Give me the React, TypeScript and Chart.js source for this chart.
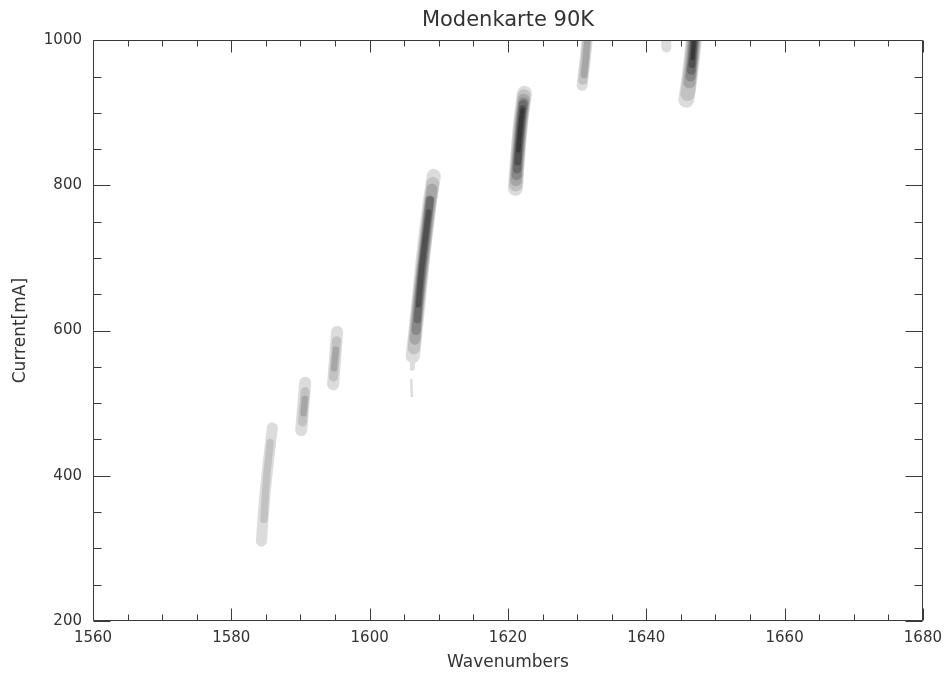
import React, { useEffect, useRef } from "react";
import { Chart, registerables } from "chart.js";

Chart.register(...registerables);

type Pt = [number, number]; // [wavenumber, current mA]
type Level = { z: number; w: number; pts: Pt[] }; // z = contour level, w = width in wavenumbers

const chartTitle = "Modenkarte 90K";
const xTitle = "Wavenumbers";
const yTitle = "Current[mA]";
const xRange: [number, number] = [1560, 1680];
const yRange: [number, number] = [200, 1000];
const xTickValues = [1560, 1580, 1600, 1620, 1640, 1660, 1680];
const yTickValues = [200, 400, 600, 800, 1000];
const xMinorStep = 5;
const yMinorStep = 50;

// contour ridges of each laser mode, one entry per contour level
const mode1585: Level[] = [
  { z: 1, w: 1.6, pts: [[1584.35, 310], [1584.92, 380], [1585.93, 466]] },
  { z: 2, w: 1.05, pts: [[1584.72, 340], [1585.07, 394], [1585.64, 446]] },
];
const mode1590: Level[] = [
  { z: 1, w: 1.75, pts: [[1590.11, 463], [1590.68, 528]] },
  { z: 2, w: 1.3, pts: [[1590.28, 474], [1590.68, 516]] },
  { z: 3, w: 0.9, pts: [[1590.44, 486], [1590.63, 506]] },
];
const mode1595: Level[] = [
  { z: 1, w: 1.75, pts: [[1594.72, 526], [1595.29, 598]] },
  { z: 2, w: 1.3, pts: [[1594.76, 536], [1595.24, 586]] },
  { z: 3, w: 0.9, pts: [[1594.84, 548], [1595.12, 574]] },
];
const mode1606: Level[] = [
  { z: 1, w: 0.36, pts: [[1606.03, 532], [1606.1, 510]] },
];
const mode1608: Level[] = [
  { z: 1, w: 0.72, pts: [[1606.17, 548], [1606.38, 580]] },
  { z: 1, w: 2.05, pts: [[1606.24, 565], [1606.96, 628], [1607.68, 697], [1608.55, 766], [1609.27, 813]] },
  { z: 2, w: 1.8, pts: [[1606.4, 576], [1607.04, 638], [1607.8, 702], [1608.6, 766], [1609.15, 803]] },
  { z: 3, w: 1.55, pts: [[1606.55, 588], [1607.18, 650], [1607.92, 712], [1608.65, 770], [1609.02, 795]] },
  { z: 4, w: 1.3, pts: [[1606.72, 600], [1607.35, 665], [1608.15, 732], [1608.7, 780]] },
  { z: 5, w: 1.05, pts: [[1606.9, 615], [1607.5, 680], [1608.5, 760], [1608.75, 780]] },
  { z: 6, w: 0.75, pts: [[1607.05, 635], [1607.54, 686], [1608.55, 764]] },
];
const mode1622: Level[] = [
  { z: 1, w: 2.16, pts: [[1621.08, 796], [1621.37, 835], [1621.8, 883], [1622.38, 927]] },
  { z: 2, w: 1.95, pts: [[1621.12, 801], [1621.4, 836], [1621.82, 883], [1622.34, 923]] },
  { z: 3, w: 1.7, pts: [[1621.18, 807], [1621.45, 840], [1621.88, 886], [1622.28, 918]] },
  { z: 4, w: 1.45, pts: [[1621.24, 814], [1621.5, 846], [1621.92, 890], [1622.25, 914]] },
  { z: 5, w: 1.2, pts: [[1621.32, 822], [1621.58, 855], [1622.0, 898], [1622.2, 912]] },
  { z: 6, w: 0.95, pts: [[1621.4, 832], [1621.68, 865], [1622.12, 906]] },
  { z: 7, w: 0.6, pts: [[1621.5, 848], [1621.8, 880], [1622.1, 904]] },
];
const mode1631: Level[] = [
  { z: 1, w: 1.6, pts: [[1631.59, 1014], [1631.16, 973], [1630.73, 938]] },
  { z: 2, w: 1.3, pts: [[1631.55, 1014], [1631.16, 973], [1630.83, 945]] },
  { z: 3, w: 0.95, pts: [[1631.48, 1000], [1631.16, 965], [1631.0, 952]] },
];
const mode1643: Level[] = [
  { z: 1, w: 1.44, pts: [[1642.83, 1014], [1642.9, 990]] },
];
const mode1647: Level[] = [
  { z: 1, w: 2.3, pts: [[1647.01, 1014], [1646.57, 973], [1646.0, 931], [1645.78, 918]] },
  { z: 2, w: 2.05, pts: [[1647.01, 1014], [1646.57, 973], [1646.1, 934], [1645.95, 926]] },
  { z: 3, w: 1.75, pts: [[1647.01, 1014], [1646.62, 973], [1646.25, 942]] },
  { z: 4, w: 1.45, pts: [[1647.01, 1014], [1646.68, 977], [1646.38, 950]] },
  { z: 5, w: 1.2, pts: [[1647.01, 1014], [1646.75, 983], [1646.5, 958]] },
  { z: 6, w: 0.9, pts: [[1647.01, 1014], [1646.79, 986], [1646.6, 966]] },
  { z: 7, w: 0.55, pts: [[1647.01, 1014], [1646.82, 990], [1646.7, 975]] },
];

const modes: Level[][] = [
  mode1585, mode1590, mode1595, mode1606, mode1608, mode1622, mode1631, mode1643, mode1647,
];

const grayLevels = ["#dcdcdc", "#c2c2c2", "#a6a6a6", "#888888", "#6b6b6b", "#505050", "#383838"];

const FONT = "'DejaVu Sans', 'Liberation Sans', sans-serif";
const TEXT = "#333333";

function widthPx(chart: any, w: number): number {
  const s = chart?.scales?.x;
  if (!s || !s.width) return 1;
  return Math.abs(s.getPixelForValue(xRange[0] + w) - s.getPixelForValue(xRange[0]));
}

const framePlugin = {
  id: "idlFrame",
  afterDraw(chart: any) {
    const { ctx, chartArea: a, scales } = chart;
    const xs = scales.x;
    const ys = scales.y;
    const L = Math.round(a.left) + 0.5;
    const R = Math.round(a.right) - 0.5;
    const T = Math.round(a.top) + 0.5;
    const B = Math.round(a.bottom) - 0.5;
    ctx.save();
    ctx.strokeStyle = "#3a3a3a";
    ctx.lineWidth = 1;
    ctx.beginPath();
    ctx.rect(L, T, R - L, B - T);
    for (let v = xRange[0]; v <= xRange[1] + 1e-9; v += xMinorStep) {
      const len = xTickValues.includes(v) ? 12 : 6;
      const p = Math.round(xs.getPixelForValue(v)) + 0.5;
      ctx.moveTo(p, B);
      ctx.lineTo(p, B - len);
      ctx.moveTo(p, T);
      ctx.lineTo(p, T + len);
    }
    for (let v = yRange[0]; v <= yRange[1] + 1e-9; v += yMinorStep) {
      const len = yTickValues.includes(v) ? 17 : 8;
      const p = Math.round(ys.getPixelForValue(v)) + 0.5;
      ctx.moveTo(L, p);
      ctx.lineTo(L + len, p);
      ctx.moveTo(R, p);
      ctx.lineTo(R - len, p);
    }
    ctx.stroke();
    ctx.restore();
  },
};

export default function App() {
  const ref = useRef<HTMLCanvasElement | null>(null);

  useEffect(() => {
    if (!ref.current) return;
    const datasets: any[] = [];
    modes.forEach((mode) => {
      mode.forEach((lvl) => {
        const color = grayLevels[lvl.z - 1];
        datasets.push({
          data: lvl.pts.map(([x, y]) => ({ x, y })),
          showLine: true,
          borderColor: color,
          backgroundColor: color,
          borderWidth: (c: any) => widthPx(c.chart, lvl.w),
          borderCapStyle: "round",
          borderJoinStyle: "round",
          pointRadius: 0,
          pointHoverRadius: 0,
          tension: 0.35,
          fill: false,
          clip: 0,
        });
      });
    });
    // Chart.js paints the first dataset on top: put the lightest (outer) levels last
    datasets.reverse();

    const chart = new Chart(ref.current, {
      type: "scatter",
      data: { datasets },
      plugins: [framePlugin],
      options: {
        animation: false,
        responsive: false,
        events: [],
        layout: { padding: { top: 0, right: 24, bottom: 0, left: 0 } },
        plugins: {
          legend: { display: false },
          tooltip: { enabled: false },
          title: {
            display: true,
            fullSize: false,
            text: chartTitle,
            color: TEXT,
            font: { family: FONT, size: 21, weight: "normal" },
            padding: { top: 8, bottom: 7 },
          },
        },
        scales: {
          x: {
            type: "linear",
            min: xRange[0],
            max: xRange[1],
            afterBuildTicks: (s: any) => {
              s.ticks = xTickValues.map((v) => ({ value: v }));
            },
            afterFit: (s: any) => {
              s.height = 52;
            },
            grid: { display: false, drawTicks: false },
            border: { display: false },
            ticks: {
              color: TEXT,
              padding: 8,
              maxRotation: 0,
              autoSkip: false,
              font: { family: FONT, size: 15 },
              callback: (v: any) => String(v),
            },
            title: {
              display: true,
              text: xTitle,
              color: TEXT,
              font: { family: FONT, size: 17 },
              padding: { top: 0, bottom: 0 },
            },
          },
          y: {
            type: "linear",
            min: yRange[0],
            max: yRange[1],
            afterBuildTicks: (s: any) => {
              s.ticks = yTickValues.map((v) => ({ value: v }));
            },
            afterFit: (s: any) => {
              s.width = 93;
            },
            grid: { display: false, drawTicks: false },
            border: { display: false },
            ticks: {
              color: TEXT,
              padding: 11,
              autoSkip: false,
              font: { family: FONT, size: 15 },
              callback: (v: any) => String(v),
            },
            title: {
              display: true,
              text: yTitle,
              color: TEXT,
              font: { family: FONT, size: 17 },
              padding: { top: 10, bottom: 0 },
            },
          },
        },
      },
    });
    return () => chart.destroy();
  }, []);

  return (
    <div style={{ position: "absolute", left: 0, top: 0, width: 950, height: 673, background: "#ffffff" }}>
      <canvas ref={ref} width={950} height={673} style={{ display: "block" }} />
    </div>
  );
}
